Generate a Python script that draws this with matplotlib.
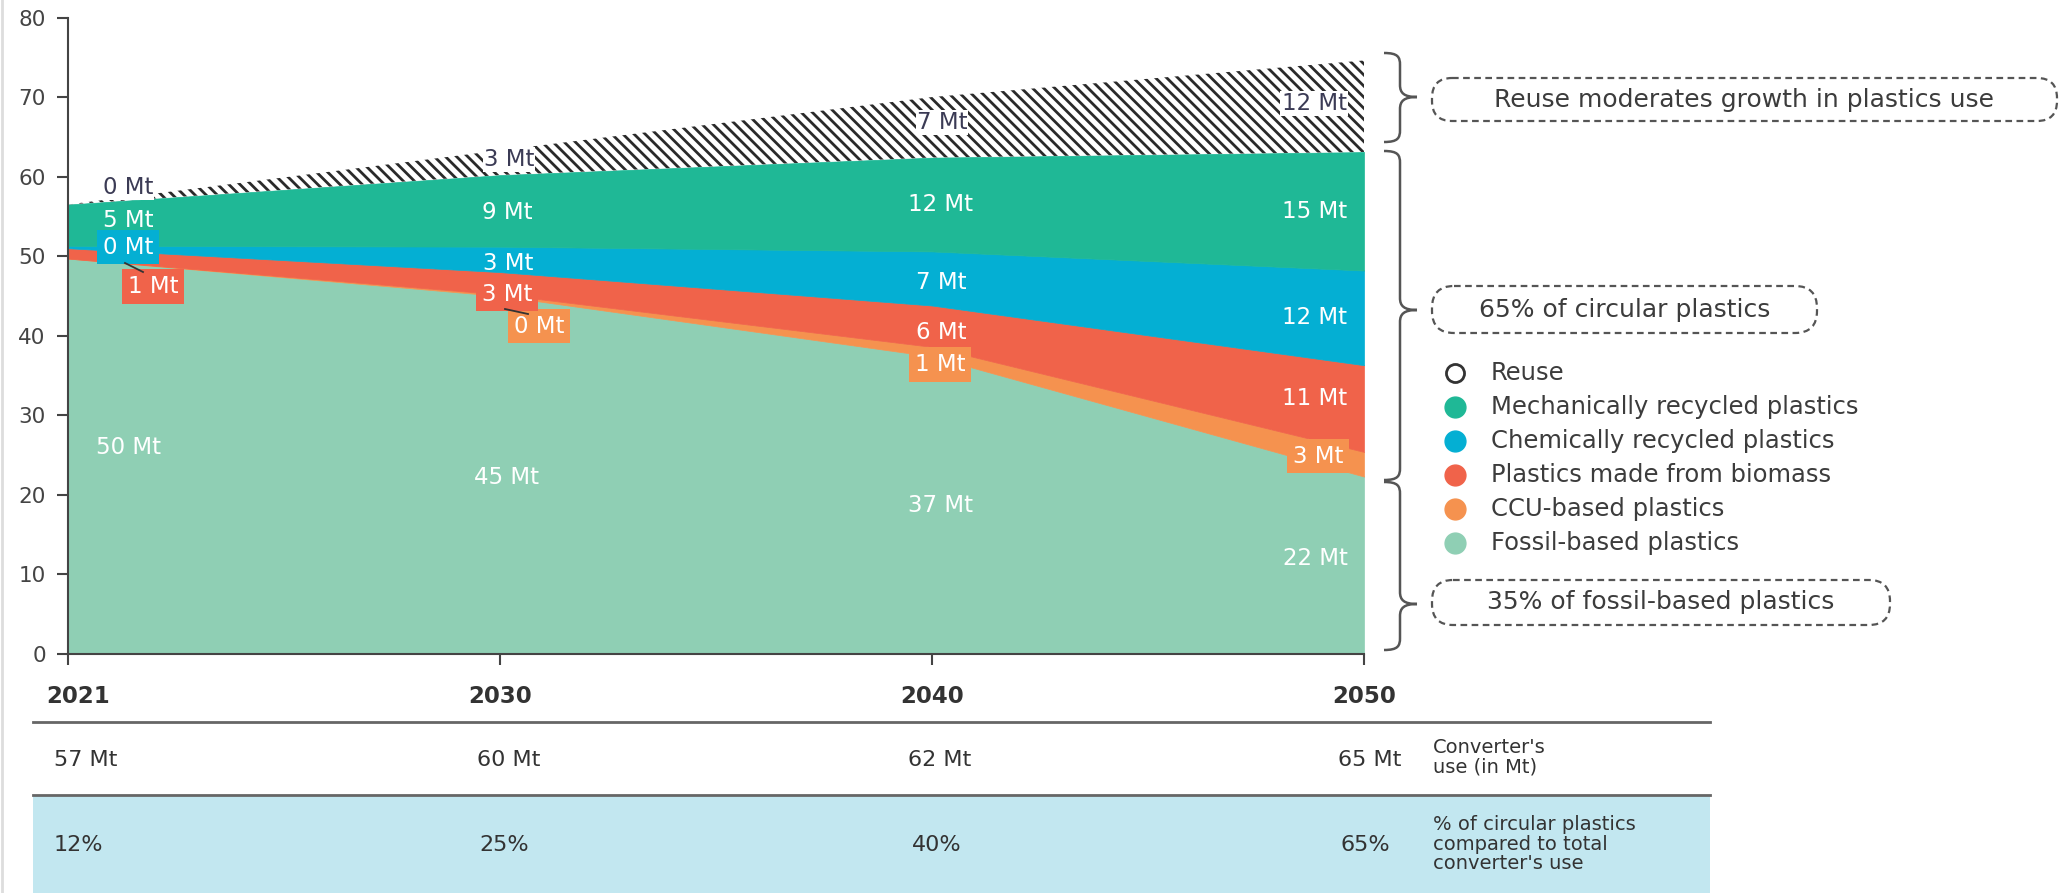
import numpy as np
import matplotlib
matplotlib.use("Agg")
import matplotlib.pyplot as plt
import matplotlib.transforms as mtransforms
from matplotlib.path import Path
from matplotlib.patches import PathPatch, FancyBboxPatch, Rectangle
from matplotlib.lines import Line2D

# values (Mt)
years = ["2021", "2030", "2040", "2050"]
fossil = [49.7, 45.0, 37.4, 22.3]
ccu = [0.0, 0.2, 1.2, 3.1]
biomass = [1.3, 2.8, 5.2, 10.9]
chemical = [0.3, 3.2, 6.8, 11.9]
mechanical = [5.2, 9.0, 11.8, 14.9]
reuse = [0.0, 3.1, 7.6, 11.5]

fossil_lbl = ["50 Mt", "45 Mt", "37 Mt", "22 Mt"]
ccu_lbl = ["", "0 Mt", "1 Mt", "3 Mt"]
biomass_lbl = ["1 Mt", "3 Mt", "6 Mt", "11 Mt"]
chemical_lbl = ["0 Mt", "3 Mt", "7 Mt", "12 Mt"]
mechanical_lbl = ["5 Mt", "9 Mt", "12 Mt", "15 Mt"]
reuse_lbl = ["0 Mt", "3 Mt", "7 Mt", "12 Mt"]

converter_use = ["57 Mt", "60 Mt", "62 Mt", "65 Mt"]
circular_share = ["12%", "25%", "40%", "65%"]

names = ["Fossil-based plastics", "CCU-based plastics", "Plastics made from biomass",
         "Chemically recycled plastics", "Mechanically recycled plastics", "Reuse"]
colors = ["#8fcfb4", "#f5924f", "#f0634a", "#04afd3", "#1fb896", "#ffffff"]

plt.rcParams['font.family'] = ['DejaVu Sans']
plt.rcParams['hatch.color'] = '#2a2a2a'
plt.rcParams['hatch.linewidth'] = 2.0

W, H = 2061, 893
fig = plt.figure(figsize=(W / 100, H / 100), dpi=100)
ax = fig.add_axes([68 / W, 1 - 654 / H, (1364 - 68) / W, (654 - 17.5) / H])
# pixel coords of the picture (y downwards) -> figure
pxfig = mtransforms.Affine2D().scale(1 / W, -1 / H).translate(0, 1) + fig.transFigure

x = np.arange(len(years))
layers = [fossil, ccu, biomass, chemical, mechanical, reuse]
polys = ax.stackplot(x, *layers, colors=colors, linewidth=0)
for p, c in zip(polys, colors):
    p.set_edgecolor(c)
    p.set_linewidth(0.5)
polys[-1].set_hatch('\\\\\\')
polys[-1].set_edgecolor('#2a2a2a')
polys[-1].set_linewidth(0)

ax.set_xlim(0, 3)
ax.set_ylim(0, 80)
ax.set_yticks(range(0, 81, 10))
ax.set_xticks(x, years, fontsize=16.5, fontweight='bold', color='#333333')
for s in ['top', 'right']:
    ax.spines[s].set_visible(False)
for s in ['left', 'bottom']:
    ax.spines[s].set_color('#444444')
    ax.spines[s].set_linewidth(1.5)
ax.tick_params(axis='y', length=8, width=1.5, colors='#444444', labelsize=15.5, pad=8)
ax.tick_params(axis='x', length=8, width=1.5, colors='#444444', pad=14)
for lbl in ax.get_xticklabels():
    lbl.set_color('#333333')
first = ax.get_xticklabels()[0]
first.set_transform(first.get_transform() + mtransforms.ScaledTranslation(0.1, 0, fig.dpi_scale_trans))

# area labels: default offset per year, plus tweaks (dx, dy, box colour) in pixels
base_dx = [60, 7, 9, -49]
tweaks = {
    (0, 0): (60, -9, None), (0, 1): (7, 3, None), (0, 3): (-49, -7, None),
    (1, 1): (39, 31, "#f5924f"), (1, 2): (8, 13, "#f5924f"), (1, 3): (-46, -8, "#f5924f"),
    (2, 0): (85, 33, "#f0634a"), (2, 1): (7, 11, "#f0634a"), (2, 2): (9, 6, None), (2, 3): (-49, -10, None),
    (3, 0): (60, 0, "#04afd3"), (3, 1): (8, 4, None), (3, 2): (9, 4, None),
    (4, 0): (60, -5, None), (4, 1): (7, 2, None),
    (5, 0): (60, -17, None), (5, 1): (9, -3, None), (5, 2): (10, -5, None), (5, 3): (-50, -3, None),
}
labels = [fossil_lbl, ccu_lbl, biomass_lbl, chemical_lbl, mechanical_lbl, reuse_lbl]
bottom = np.zeros(len(years))
for k, (vals, lbls) in enumerate(zip(layers, labels)):
    vals = np.array(vals)
    mid = bottom + vals / 2
    for i in range(len(years)):
        if not lbls[i]:
            continue
        dx, dy, box = tweaks.get((k, i), (base_dx[i], 0, None))
        kw = {}
        col = 'white'
        if box:
            kw['bbox'] = dict(boxstyle='square,pad=0.25', fc=box, ec='none')
        if k == 5:
            col = '#3b3b55'
            kw['bbox'] = dict(boxstyle='square,pad=0.05', fc='white', ec='none')
        ax.annotate(lbls[i], xy=(x[i], mid[i]), xytext=(dx, -dy), textcoords='offset pixels',
                    ha='center', va='center', fontsize=16.5, color=col, zorder=5,
                    annotation_clip=False, **kw)
    bottom = bottom + vals

# leader lines
fig.add_artist(Line2D([125, 143], [263, 272], transform=pxfig, color='#333333', lw=1.3))
fig.add_artist(Line2D([505, 528], [309, 314], transform=pxfig, color='#333333', lw=1.3))

# table below the chart
fig.add_artist(Rectangle((33, 795), 1677, 98, transform=pxfig, fc='#c2e7f0', ec='none', zorder=0))
for yy in [722, 795]:
    fig.add_artist(Line2D([33, 1710], [yy, yy], transform=pxfig, color='#666666', lw=2))
blend = mtransforms.blended_transform_factory(ax.transData, pxfig)
row1_dx = [18, 9, 8, 6]
row2_dx = [10, 4, 5, 1]
for i in range(len(years)):
    ax.annotate(converter_use[i], xy=(x[i], 760), xycoords=blend, xytext=(row1_dx[i], 0),
                textcoords='offset pixels', ha='center', va='center', fontsize=16, color='#333333',
                annotation_clip=False)
    ax.annotate(circular_share[i], xy=(x[i], 845), xycoords=blend, xytext=(row2_dx[i], 0),
                textcoords='offset pixels', ha='center', va='center', fontsize=16, color='#333333',
                annotation_clip=False)
fig.text(1433, 757, "Converter's\nuse (in Mt)", transform=pxfig, ha='left', va='center',
         fontsize=14, color='#333333', linespacing=1.05)
fig.text(1433, 844, "% of circular plastics\ncompared to total\nconverter's use", transform=pxfig,
         ha='left', va='center', fontsize=14, color='#333333', linespacing=1.05)


def brace(top, tip, bot, x0=1384, x1=1400, x2=1417, r=12):
    verts = [(x0, top), (x1 - 2, top), (x1, top + 4), (x1, top + r),
             (x1, tip - r), (x1, tip - 4), (x1 + 4, tip), (x2, tip),
             (x1 + 4, tip), (x1, tip + 4), (x1, tip + r),
             (x1, bot - r), (x1, bot - 4), (x1 - 2, bot), (x0, bot)]
    codes = [Path.MOVETO, Path.CURVE4, Path.CURVE4, Path.CURVE4,
             Path.LINETO, Path.CURVE4, Path.CURVE4, Path.CURVE4,
             Path.CURVE4, Path.CURVE4, Path.CURVE4,
             Path.LINETO, Path.CURVE4, Path.CURVE4, Path.CURVE4]
    fig.add_artist(PathPatch(Path(verts, codes), transform=pxfig, fc='none', ec='#555555', lw=1.8))


brace(53, 97, 142)
brace(151, 310, 480)
brace(482, 604, 650)

callouts = [("Reuse moderates growth in plastics use", 1432, 78, 625, 43),
            ("65% of circular plastics", 1432, 286, 385, 47),
            ("35% of fossil-based plastics", 1432, 580, 458, 45)]
for txt, bx, by, bw, bh in callouts:
    fig.add_artist(FancyBboxPatch((bx, by), bw, bh, boxstyle='round,pad=0,rounding_size=%d' % (bh // 2 - 1),
                                  transform=pxfig, fc='white', ec='#555555', lw=1.6, ls=(0, (3, 2))))
    fig.text(bx + bw / 2, by + bh / 2, txt, transform=pxfig, ha='center', va='center',
             fontsize=18, color='#3c3c3c')

# legend
legend_order = [5, 4, 3, 2, 1, 0]
for j, k in enumerate(legend_order):
    yy = 373 + j * 34
    if k == 5:
        m = Line2D([1455], [yy], transform=pxfig, marker='o', ms=13, mfc='white', mec='#333333', mew=2, ls='none')
    else:
        m = Line2D([1455], [yy], transform=pxfig, marker='o', ms=15, mfc=colors[k], mec=colors[k], ls='none')
    fig.add_artist(m)
    fig.text(1491, yy, names[k], transform=pxfig, ha='left', va='center', fontsize=17.5, color='#3c3c3c')

fig.add_artist(Line2D([1.5, 1.5], [0, 893], transform=pxfig, color='#dddddd', lw=2))

fig.savefig("out.png", dpi=100)
